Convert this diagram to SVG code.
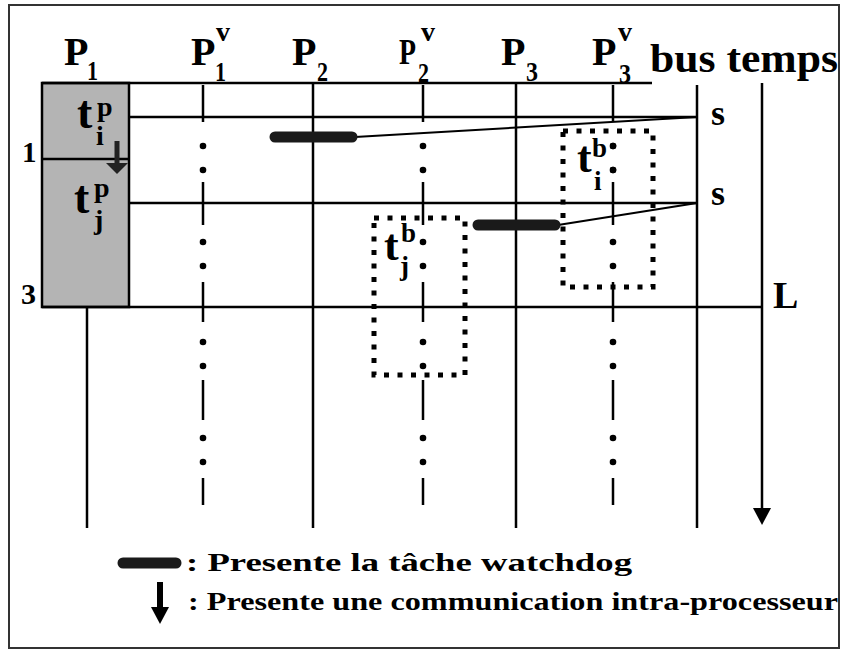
<svg xmlns="http://www.w3.org/2000/svg" width="842" height="651" viewBox="0 0 842 651">
  <style>
    .t { font-family: "Liberation Serif", "Times New Roman", serif; font-weight: bold; fill: #000; }
    .sub { font-size: 28px; }
    .ln { stroke: #000; stroke-width: 2.5; fill: none; }
    .dd { stroke: #000; stroke-width: 2.5; fill: none; }
    .dot { fill: #000; }
    .box { fill: none; stroke: #000; stroke-width: 5; stroke-dasharray: 5 8.5; }
    .wd { stroke: #1a1a1a; stroke-width: 11; stroke-linecap: round; }
  </style>
  <defs>
    <g id="dots">
      <circle cx="0" cy="146" r="3.3"/><circle cx="0" cy="170" r="3.3"/>
      <circle cx="0" cy="242" r="3.3"/><circle cx="0" cy="266" r="3.3"/>
      <circle cx="0" cy="342" r="3.3"/><circle cx="0" cy="366" r="3.3"/>
      <circle cx="0" cy="438" r="3.3"/><circle cx="0" cy="462" r="3.3"/>
    </g>
    <path id="dash" d="M0 85V122M0 182V225M0 282V322M0 380V420M0 478V505"/>
  </defs>

  <rect x="0" y="0" width="842" height="651" fill="#fff"/>
  <rect x="9" y="5" width="830" height="643" fill="none" stroke="#333" stroke-width="2"/>

  <!-- column headers -->
  <g id="headers">
    <text class="t" x="64" y="65" font-size="40">P</text>
    <text class="t sub" x="87" y="80" textLength="11" lengthAdjust="spacingAndGlyphs">1</text>
    <text class="t" x="191" y="65" font-size="40">P</text>
    <text class="t" x="216" y="41" font-size="28">v</text>
    <text class="t sub" x="215" y="81" textLength="11" lengthAdjust="spacingAndGlyphs">1</text>
    <text class="t" x="292" y="65" font-size="40">P</text>
    <text class="t sub" x="317" y="81" textLength="11" lengthAdjust="spacingAndGlyphs">2</text>
    <text class="t" x="399" y="64" font-size="35" textLength="17" lengthAdjust="spacingAndGlyphs">P</text>
    <text class="t" x="421" y="41" font-size="28">v</text>
    <text class="t sub" x="418" y="82" textLength="11" lengthAdjust="spacingAndGlyphs">2</text>
    <text class="t" x="501" y="65" font-size="40">P</text>
    <text class="t sub" x="526" y="81" textLength="12" lengthAdjust="spacingAndGlyphs">3</text>
    <text class="t" x="592" y="65" font-size="40">P</text>
    <text class="t" x="618" y="41" font-size="28">v</text>
    <text class="t sub" x="619" y="83" textLength="12" lengthAdjust="spacingAndGlyphs">3</text>
    <text class="t" x="650" y="72" font-size="41" textLength="188" lengthAdjust="spacingAndGlyphs">bus temps</text>
  </g>

  <!-- processor P1 with its two tasks -->
  <g id="p1-tasks">
    <rect x="42" y="83" width="87" height="224" fill="#b4b4b4" stroke="#000" stroke-width="2.5"/>
    <line class="ln" x1="42" y1="159" x2="129" y2="159"/>
    <text class="t" x="77" y="128" font-size="46">t</text>
    <text class="t" x="97" y="116" font-size="28">p</text>
    <text class="t" x="96" y="145" font-size="28">i</text>
    <text class="t" x="74" y="213" font-size="46">t</text>
    <text class="t" x="94" y="197" font-size="28">p</text>
    <text class="t" x="94" y="229" font-size="28">j</text>
    <line x1="117" y1="141" x2="117" y2="164" stroke="#222" stroke-width="5"/>
    <polygon points="106,163 128,163 117,174" fill="#222"/>
  </g>

  <!-- time grid and processor axes -->
  <g id="connectors">
    <line class="ln" x1="42" y1="83" x2="652" y2="83"/>
    <line class="ln" x1="129" y1="117" x2="697" y2="117"/>
    <line class="ln" x1="129" y1="203" x2="697" y2="203"/>
    <line class="ln" x1="42" y1="307" x2="763" y2="307"/>
    <line class="ln" x1="87" y1="307" x2="87" y2="528"/>
    <line class="ln" x1="313" y1="83" x2="313" y2="528"/>
    <line class="ln" x1="516" y1="83" x2="516" y2="528"/>
    <line class="ln" x1="697" y1="85" x2="697" y2="528"/>
    <line class="ln" x1="762" y1="83" x2="762" y2="512"/>
    <polygon points="753,508 771,508 762,525" fill="#000"/>
    <g class="dd">
      <use href="#dash" x="203"/>
      <use href="#dash" x="423"/>
      <use href="#dash" x="613"/>
    </g>
    <g class="dot">
      <use href="#dots" x="203"/>
      <use href="#dots" x="423"/>
      <use href="#dots" x="613"/>
    </g>
    <line x1="355" y1="137" x2="697" y2="117" stroke="#000" stroke-width="2"/>
    <line x1="558" y1="225" x2="697" y2="203" stroke="#000" stroke-width="2"/>
  </g>

  <!-- watchdog tasks -->
  <g id="watchdog-1"><line class="wd" x1="275" y1="137" x2="352" y2="137"/></g>
  <g id="watchdog-2"><line class="wd" x1="478" y1="225" x2="555" y2="225"/></g>

  <!-- backup tasks -->
  <g id="backup-i">
    <rect class="box" x="563" y="131" width="90" height="156"/>
    <rect x="596" y="140" width="14" height="52" fill="#fff"/>
    <circle cx="613" cy="146" r="3.3"/><circle cx="613" cy="170" r="3.3"/>
    <text class="t" x="577" y="172" font-size="44">t</text>
    <text class="t" x="592" y="157" font-size="27">b</text>
    <text class="t" x="594" y="190" font-size="27">i</text>
  </g>
  <g id="backup-j">
    <rect class="box" x="374" y="218" width="91" height="157"/>
    <text class="t" x="384" y="260" font-size="44">t</text>
    <text class="t" x="401" y="242" font-size="27">b</text>
    <text class="t" x="400" y="275" font-size="27">j</text>
  </g>

  <!-- axis labels -->
  <g id="labels">
    <text class="t" x="711" y="125" font-size="36">s</text>
    <text class="t" x="711" y="205" font-size="36">s</text>
    <text class="t" x="773" y="308" font-size="38">L</text>
    <text class="t" x="22" y="162" font-size="29">1</text>
    <text class="t" x="21" y="304" font-size="30">3</text>
  </g>

  <!-- legend -->
  <g id="legend">
    <line class="wd" x1="123" y1="563" x2="176" y2="563" stroke-width="13"/>
    <text class="t" x="186" y="571" font-size="25" textLength="446" lengthAdjust="spacingAndGlyphs">: Presente la tâche watchdog</text>
    <line x1="160" y1="582" x2="160" y2="609" stroke="#000" stroke-width="6"/>
    <polygon points="151,607 169,607 160,624" fill="#000"/>
    <text class="t" x="188" y="610" font-size="25" textLength="650" lengthAdjust="spacingAndGlyphs">: Presente une communication intra-processeur</text>
  </g>
</svg>
